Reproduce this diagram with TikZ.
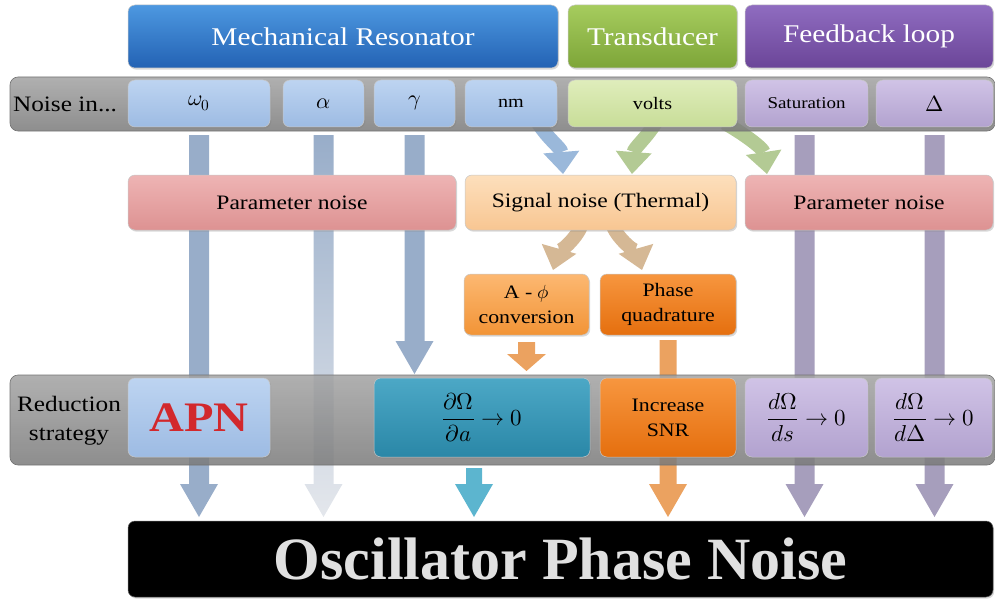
\documentclass[tikz,border=0pt]{standalone}
\usepackage{amsmath}
\usepackage{fontspec}
\usepackage{unicode-math}
\setmainfont{Liberation Serif}[FakeStretch=1.15]
\newfontfamily\plainserif{Liberation Serif}
\usetikzlibrary{shadows,arrows.meta,calc}
\pgfdeclarelayer{arrowlayer}
\pgfdeclarelayer{barlayer}
\pgfsetlayers{arrowlayer,barlayer,main}

\definecolor{mrT}{HTML}{4D98E0}\definecolor{mrB}{HTML}{2362B4}
\definecolor{trT}{HTML}{A6CC5E}\definecolor{trB}{HTML}{7DA538}
\definecolor{fbT}{HTML}{8F6CC0}\definecolor{fbB}{HTML}{6B4598}
\definecolor{lbT}{HTML}{BDD4F1}\definecolor{lbB}{HTML}{9DBBE3}
\definecolor{lgT}{HTML}{DFEDBB}\definecolor{lgB}{HTML}{C8DD98}
\definecolor{lpT}{HTML}{D0C3E6}\definecolor{lpB}{HTML}{B2A2CF}
\definecolor{pkT}{HTML}{EEB4B4}\definecolor{pkB}{HTML}{DD9292}
\definecolor{peT}{HTML}{FDDFBC}\definecolor{peB}{HTML}{F8C692}
\definecolor{aoT}{HTML}{FCB872}\definecolor{aoB}{HTML}{F29436}
\definecolor{orT}{HTML}{F7963F}\definecolor{orB}{HTML}{E56F0E}
\definecolor{tlT}{HTML}{4CA8C6}\definecolor{tlB}{HTML}{2A87A7}
\definecolor{gbT}{HTML}{A2A2A2}\definecolor{gbB}{HTML}{7A7A7A}
\definecolor{abl}{HTML}{98ADC9}\definecolor{apu}{HTML}{A69EBC}
\definecolor{acb}{HTML}{9AB8DA}\definecolor{agr}{HTML}{B3CA94}
\definecolor{atn}{HTML}{D5B895}\definecolor{aor}{HTML}{EBA260}
\definecolor{atl}{HTML}{5CB5CF}\definecolor{alight}{HTML}{E4E7EC}
\definecolor{apnred}{HTML}{D2282C}

\newcommand\fHead{\fontsize{25.5}{28}\selectfont}
\newcommand\fLab{\fontsize{22}{29}\selectfont}
\newcommand\fNz{\fontsize{17.5}{19}\selectfont}
\newcommand\fNzM{\fontsize{22}{24}\selectfont}
\newcommand\fMid{\fontsize{20.5}{23}\selectfont}
\newcommand\fSm{\fontsize{19}{25}\selectfont}
\newcommand\fMath{\fontsize{23}{25}\selectfont}

\tikzset{
  every node/.style={inner sep=0pt, outer sep=0pt},
  grad/.style 2 args={top color=#1, bottom color=#2},
  rbox/.style={rounded corners=7pt, draw=black!22, line width=0.5pt,
    drop shadow={opacity=0.3, shadow xshift=1.2pt, shadow yshift=-1.6pt}},
  barbox/.style={rounded corners=8pt, draw=black!55, line width=0.6pt,
    top color=gbT, bottom color=gbB, fill opacity=0.85},
  curv/.style={line width=14pt, -{Triangle[width=36pt,length=22pt,line width=0pt]}},
}

% box by corners: name, x1, y1, x2, y2, style, text
\newcommand\mkbox[7]{\node[rbox,#6,anchor=north west,minimum width={#4-#2},
  minimum height={#5-#3},align=center] (#1) at (#2,#3) {#7};}
% straight block arrow: src point, tgt node, start gap, half shaft, half head, head length, style
\newcommand\blkdown[7]{\path[#7] let \p1=(#1), \p2=(#2.north) in
  ({\x1-#4pt},{\y1-#3pt}) -- ({\x1+#4pt},{\y1-#3pt}) -- ({\x1+#4pt},{\y2+4pt+#6pt})
  -- ({\x1+#5pt},{\y2+4pt+#6pt}) -- (\x1,{\y2+4pt}) -- ({\x1-#5pt},{\y2+4pt+#6pt})
  -- ({\x1-#4pt},{\y2+4pt+#6pt}) -- cycle;}

\begin{document}
\begin{tikzpicture}[x=1pt,y=-1pt]
\useasboundingbox (0,0) rectangle (995,599);

% headers
\mkbox{mr}{128}{5}{558}{68}{grad={mrT}{mrB},text=white,font=\fHead}{Mechanical Resonator}
\mkbox{tr}{568}{5}{737}{68}{grad={trT}{trB},text=white,font=\fHead}{Transducer}
\mkbox{fb}{745}{5}{993}{68}{grad={fbT}{fbB},text=white,font=\fHead}{Feedback loop}

% gray bars
\begin{pgfonlayer}{barlayer}
\node[barbox,anchor=north west,minimum width=985,minimum height=54] (nbar) at (10,77) {};
\node[barbox,anchor=north west,minimum width=985,minimum height=90] (rbar) at (10,375) {};
\end{pgfonlayer}

% noise row
\node[anchor=west,font=\fLab] (nlab) at (13,104) {Noise in...};
\mkbox{w0}{128}{80}{270}{127}{grad={lbT}{lbB},font=\fNzM}{$\omega_0$}
\mkbox{al}{283}{80}{364}{127}{grad={lbT}{lbB},font=\fNzM}{$\alpha$}
\mkbox{ga}{374}{80}{455}{127}{grad={lbT}{lbB},font=\fNzM}{$\gamma$}
\mkbox{nm}{465}{80}{557}{127}{grad={lbT}{lbB},font=\fNz}{nm}
\mkbox{vo}{568}{80}{737}{127}{grad={lgT}{lgB},font=\fNz}{volts}
\mkbox{sa}{745}{80}{868}{127}{grad={lpT}{lpB},font=\fontsize{16.5}{18}\selectfont}{Saturation}
\mkbox{de}{876}{80}{993}{127}{grad={lpT}{lpB},font=\fNzM}{$\Delta$}

% middle row
\mkbox{pn1}{128}{175}{456}{230}{grad={pkT}{pkB},font=\fMid}{Parameter noise}
\mkbox{sn}{465}{175}{736}{230}{grad={peT}{peB},font=\fMid}{Signal noise (Thermal)}
\mkbox{pn2}{745}{175}{993}{230}{grad={pkT}{pkB},font=\fMid}{Parameter noise}
\mkbox{ap}{464}{274}{589}{335}{grad={aoT}{aoB},font=\fSm}{A - $\phi$\\conversion}
\mkbox{pq}{600}{274}{736}{335}{grad={orT}{orB},font=\fSm}{Phase\\quadrature}

% reduction strategy row
\node[align=center,font=\fLab] (rlab) at (69,421) {Reduction\\strategy};
\mkbox{apn}{128}{378}{270}{457}{grad={lbT}{lbB},text=apnred,font=\fontsize{42}{44}\selectfont\bfseries}{APN}
\mkbox{da}{374}{378}{590}{457}{grad={tlT}{tlB},font=\fMath}{$\dfrac{\partial\Omega}{\partial a}\to 0$}
\mkbox{snr}{600}{378}{736}{457}{grad={orT}{orB},font=\fSm}{Increase\\SNR}
\mkbox{ds}{745}{378}{868}{457}{grad={lpT}{lpB},font=\fMath}{$\dfrac{d\Omega}{ds}\to 0$}
\mkbox{dd}{875}{378}{992}{457}{grad={lpT}{lpB},font=\fMath}{$\dfrac{d\Omega}{d\Delta}\to 0$}

% result
\node[rbox,fill=black,draw=black!60,anchor=north west,minimum width=865,minimum height=76,
  text=black!12,font=\plainserif\bfseries\fontsize{60}{64}\selectfont] (opn) at (128,521) {Oscillator Phase Noise};

% arrows
\begin{pgfonlayer}{arrowlayer}
\blkdown{w0.south}{opn}{8}{10}{19}{33}{fill=abl}
\blkdown{al.south}{opn}{8}{10}{19}{33}{top color=abl,bottom color=alight}
\blkdown{ga.south}{da}{8}{10}{19}{33}{fill=abl}
\blkdown{[xshift=-2pt]sa.south}{opn}{8}{10}{19}{33}{fill=apu}
\blkdown{de.south}{opn}{8}{10}{19}{33}{fill=apu}
\blkdown{ap.south}{rbar}{7}{8.5}{19.5}{17}{fill=aor}
\blkdown{pq.south}{opn}{5}{8.5}{19}{33}{fill=aor}
\blkdown{[xshift=-8pt]da.south}{opn}{11}{8}{19}{33}{fill=atl}
\draw[curv,draw=acb] ([xshift=27pt,yshift=4pt]nm.south) .. controls +(10,16) and +(-2,-26) .. ([xshift=-37.5pt,yshift=1pt]sn.north);
\draw[curv,draw=agr] ([xshift=3pt,yshift=4pt]vo.south) .. controls +(-10,16) and +(2,-26) .. ([xshift=31.5pt,yshift=1pt]sn.north);
\draw[curv,draw=agr] ([xshift=72pt,yshift=4pt]vo.south) .. controls +(18,10) and +(-4,-26) .. ([xshift=-102pt,yshift=1pt]pn2.north);
\draw[curv,draw=atn] ([xshift=-19.5pt,yshift=4pt]sn.south) .. controls +(-4,12) and +(4,-14) .. ([xshift=26.5pt,yshift=4pt]ap.north);
\draw[curv,draw=atn] ([xshift=12.5pt,yshift=4pt]sn.south) .. controls +(4,12) and +(-4,-14) .. ([xshift=-26pt,yshift=4pt]pq.north);
\end{pgfonlayer}
\end{tikzpicture}
\end{document}
